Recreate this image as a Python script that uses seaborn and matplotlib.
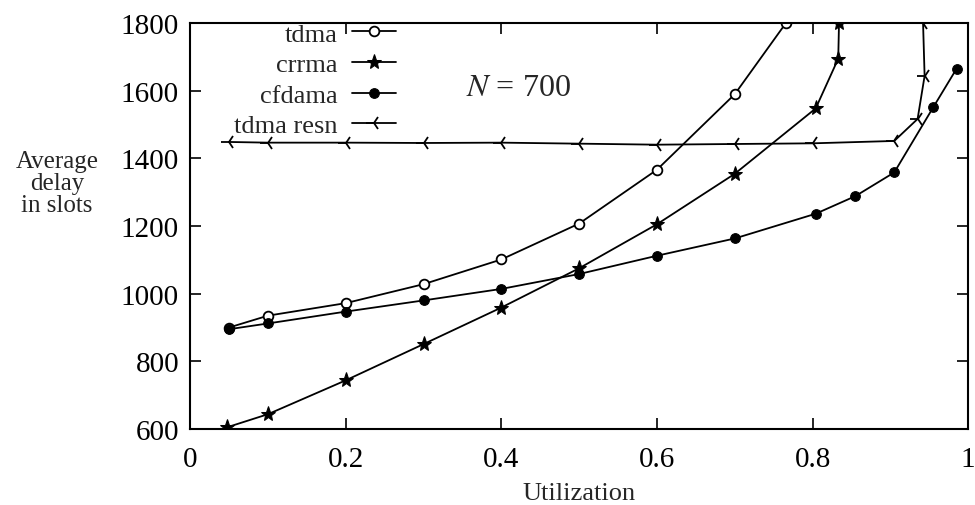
import matplotlib
matplotlib.use("Agg")
import matplotlib.pyplot as plt
import seaborn as sns
import pandas as pd

# Utilization values and average delay (slots) for each access scheme
tdma_util = [0.05, 0.1, 0.2, 0.3, 0.4, 0.5, 0.6, 0.7, 0.766]
tdma_delay = [900, 935, 972, 1028, 1101, 1207, 1366, 1589, 1800]

crrma_util = [0.047, 0.1, 0.2, 0.3, 0.4, 0.5, 0.6, 0.7, 0.804, 0.833, 0.834]
crrma_delay = [605, 644, 744, 851, 959, 1075, 1205, 1354, 1547, 1694, 1800]

cfdama_util = [0.05, 0.1, 0.2, 0.3, 0.4, 0.5, 0.6, 0.7, 0.804, 0.855, 0.905, 0.955, 0.985]
cfdama_delay = [895, 912, 947, 980, 1014, 1058, 1112, 1163, 1236, 1288, 1358, 1550, 1664]

resn_util = [0.05, 0.1, 0.2, 0.3, 0.4, 0.5, 0.6, 0.7, 0.8, 0.905, 0.935, 0.944, 0.942]
resn_delay = [1448, 1446, 1446, 1445, 1446, 1443, 1440, 1442, 1444, 1451, 1516, 1643, 1800]

series_names = ["tdma", "crrma", "cfdama", "tdma resn"]
x_ticks = [0, 0.2, 0.4, 0.6, 0.8, 1]
x_tick_labels = ["0", "0.2", "0.4", "0.6", "0.8", "1"]
y_ticks = [600, 800, 1000, 1200, 1400, 1600, 1800]

frames = []
for name, xs, ys in zip(series_names,
                        [tdma_util, crrma_util, cfdama_util, resn_util],
                        [tdma_delay, crrma_delay, cfdama_delay, resn_delay]):
    frames.append(pd.DataFrame({"util": xs, "delay": ys, "scheme": name}))
df = pd.concat(frames, ignore_index=True)

sns.set_theme(style="ticks")
plt.rcParams["font.family"] = ["Liberation Serif", "DejaVu Serif"]
plt.rcParams["mathtext.fontset"] = "stix"

fig = plt.figure(figsize=(9.75, 5.06), dpi=100)
ax = fig.add_axes([0.195, 0.150, 0.798, 0.803])

marker_styles = {
    "tdma": dict(marker="o", markerfacecolor="white", markeredgecolor="black",
                 markersize=7, markeredgewidth=1.3),
    "crrma": dict(marker="*", markerfacecolor="black", markeredgecolor="black",
                  markersize=11),
    "cfdama": dict(marker="o", markerfacecolor="black", markeredgecolor="black",
                   markersize=7),
    "tdma resn": dict(marker="3", markerfacecolor="black", markeredgecolor="black",
                      markersize=11, markeredgewidth=1.3),
}

for name in series_names:
    sub = df[df["scheme"] == name]
    sns.lineplot(data=sub, x="util", y="delay", ax=ax, color="black",
                 linewidth=1.3, sort=False, estimator=None, label=name,
                 **marker_styles[name])

ax.set_xlim(0, 1)
ax.set_ylim(600, 1800)
ax.set_xticks(x_ticks)
ax.set_xticklabels(x_tick_labels)
ax.set_yticks(y_ticks)

ax.tick_params(axis="both", direction="in", length=8, width=1.2,
               top=True, right=True, labelsize=21, colors="black")
ax.tick_params(axis="x", pad=12)
ax.tick_params(axis="y", pad=8)
for spine in ax.spines.values():
    spine.set_linewidth(1.5)
    spine.set_color("black")

ax.set_xlabel("Utilization", fontsize=19)
ax.xaxis.set_label_coords(0.5, -0.13)
ax.set_ylabel("Average\ndelay\nin slots", fontsize=18, rotation=0,
              ha="center", va="center", linespacing=1.0)
ax.yaxis.set_label_coords(-0.171, 0.605)

leg = ax.legend(loc="upper right", bbox_to_anchor=(0.266, 1.005), frameon=False,
                markerfirst=False, fontsize=19, handlelength=1.65,
                handletextpad=0.55, labelspacing=0.27, borderaxespad=0,
                borderpad=0.05)

ax.text(0.355, 0.84, "$N$ = 700", transform=ax.transAxes, fontsize=23,
        ha="left", va="center")

fig.savefig("out.png", dpi=100)
